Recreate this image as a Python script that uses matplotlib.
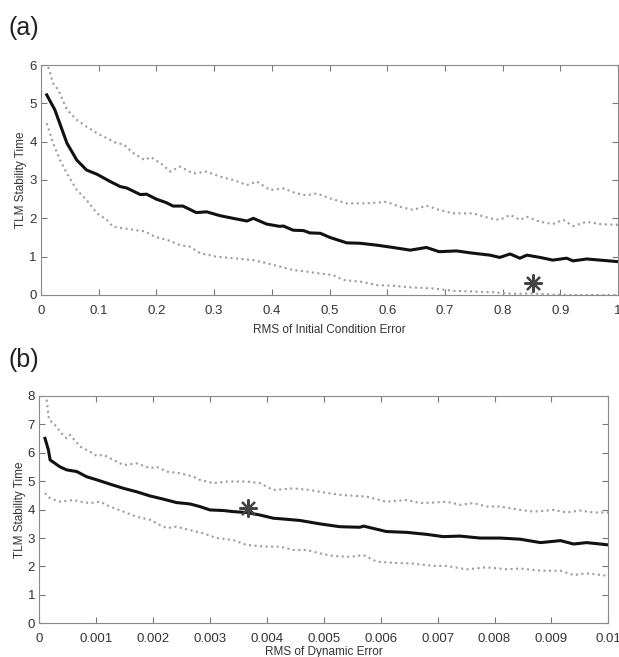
import matplotlib
matplotlib.use("Agg")
import matplotlib.pyplot as plt

plt.rcParams['font.family'] = ['Liberation Sans', 'DejaVu Sans']

# ---- Panel (a): stability time vs. RMS of initial condition error ----
a_mean_x = [0.01, 0.024, 0.045, 0.062, 0.079, 0.097, 0.12, 0.137, 0.149, 0.172, 0.183,
            0.2, 0.217, 0.229, 0.246, 0.269, 0.287, 0.31, 0.333, 0.357, 0.368, 0.391,
            0.414, 0.42, 0.437, 0.455, 0.466, 0.484, 0.501, 0.53, 0.553, 0.582, 0.61,
            0.64, 0.668, 0.69, 0.72, 0.749, 0.778, 0.795, 0.813, 0.83, 0.842, 0.865,
            0.887, 0.911, 0.922, 0.946, 0.969, 1.0]
a_mean_y = [5.22, 4.83, 3.96, 3.52, 3.26, 3.15, 2.96, 2.83, 2.79, 2.62, 2.63,
            2.5, 2.41, 2.32, 2.32, 2.15, 2.17, 2.07, 2.0, 1.93, 2.0, 1.85,
            1.79, 1.8, 1.69, 1.68, 1.62, 1.61, 1.5, 1.36, 1.35, 1.3, 1.24,
            1.17, 1.24, 1.13, 1.15, 1.09, 1.04, 0.98, 1.07, 0.96, 1.04, 0.98,
            0.91, 0.96, 0.89, 0.94, 0.91, 0.87]

a_up_x = [0.0126, 0.021, 0.03, 0.045, 0.062, 0.079, 0.097, 0.114, 0.131, 0.143, 0.16,
          0.18, 0.19, 0.208, 0.224, 0.241, 0.264, 0.287, 0.31, 0.333, 0.357, 0.374,
          0.397, 0.42, 0.443, 0.46, 0.478, 0.501, 0.53, 0.564, 0.599, 0.622, 0.645,
          0.668, 0.69, 0.714, 0.749, 0.778, 0.795, 0.813, 0.83, 0.842, 0.865, 0.887,
          0.905, 0.922, 0.946, 0.969, 1.0]
a_up_y = [5.95, 5.52, 5.35, 4.83, 4.57, 4.39, 4.22, 4.09, 3.96, 3.93, 3.7,
          3.52, 3.6, 3.43, 3.22, 3.35, 3.17, 3.22, 3.09, 3.0, 2.87, 2.96,
          2.74, 2.78, 2.65, 2.6, 2.65, 2.52, 2.39, 2.39, 2.43, 2.3, 2.22,
          2.33, 2.22, 2.13, 2.13, 2.0, 1.96, 2.09, 1.96, 2.04, 1.91, 1.85,
          1.96, 1.8, 1.91, 1.85, 1.83]

a_lo_x = [0.01, 0.021, 0.033, 0.045, 0.062, 0.079, 0.097, 0.114, 0.125, 0.143, 0.16,
          0.18, 0.197, 0.22, 0.241, 0.258, 0.276, 0.304, 0.333, 0.368, 0.391, 0.414,
          0.437, 0.46, 0.478, 0.506, 0.524, 0.553, 0.582, 0.61, 0.64, 0.68, 0.714,
          0.749, 0.784, 0.818, 0.853, 0.887, 0.92, 0.95, 1.0]
a_lo_y = [4.48, 3.96, 3.52, 3.17, 2.74, 2.48, 2.13, 1.96, 1.78, 1.74, 1.7,
          1.66, 1.52, 1.43, 1.3, 1.26, 1.09, 1.0, 0.96, 0.91, 0.83, 0.74,
          0.65, 0.61, 0.57, 0.52, 0.39, 0.35, 0.26, 0.24, 0.2, 0.17, 0.11,
          0.09, 0.07, 0.03, 0.04, 0.01, 0.0, 0.0, 0.0]

a_star = (0.852, 0.32)

# ---- Panel (b): stability time vs. RMS of dynamic error ----
b_mean_x = [0.0001, 0.00016, 0.00019, 0.00036, 0.00048, 0.00066, 0.00083, 0.00101,
            0.00124, 0.00148, 0.00171, 0.00195, 0.00218, 0.00241, 0.00265, 0.00282,
            0.003, 0.00323, 0.00341, 0.00364, 0.00388, 0.00411, 0.00435, 0.00458,
            0.00493, 0.00528, 0.00563, 0.0057, 0.0061, 0.00646, 0.00681, 0.0071,
            0.00739, 0.00775, 0.0081, 0.00845, 0.00881, 0.00916, 0.00939, 0.00962,
            0.00986, 0.01]
b_mean_y = [6.51, 6.1, 5.75, 5.51, 5.4, 5.34, 5.16, 5.05,
            4.9, 4.75, 4.63, 4.48, 4.37, 4.25, 4.2, 4.11,
            3.99, 3.97, 3.93, 3.9, 3.81, 3.7, 3.66, 3.62,
            3.5, 3.4, 3.38, 3.42, 3.23, 3.2, 3.13, 3.05,
            3.07, 3.0, 3.0, 2.96, 2.84, 2.91, 2.79, 2.84,
            2.79, 2.76]

b_up_x = [0.00013, 0.00017, 0.00025, 0.00039, 0.00048, 0.00054, 0.00072, 0.00089,
          0.00101, 0.00113, 0.0013, 0.00148, 0.00171, 0.00195, 0.00206, 0.00224,
          0.00247, 0.00271, 0.00282, 0.00306, 0.0033, 0.00364, 0.00388, 0.00411,
          0.00446, 0.00476, 0.00493, 0.00528, 0.00575, 0.0061, 0.00646, 0.00669,
          0.00693, 0.00716, 0.00739, 0.00763, 0.00786, 0.0081, 0.00845, 0.00869,
          0.00904, 0.00927, 0.0095, 0.00974, 0.01]
b_up_y = [7.87, 7.16, 7.04, 6.69, 6.51, 6.63, 6.22, 6.04,
          5.89, 5.93, 5.75, 5.57, 5.63, 5.46, 5.51, 5.34,
          5.28, 5.16, 5.05, 4.93, 4.99, 4.99, 4.93, 4.69,
          4.75, 4.69, 4.63, 4.52, 4.46, 4.28, 4.34, 4.23,
          4.25, 4.28, 4.17, 4.23, 4.11, 4.11, 3.99, 3.93,
          3.99, 3.9, 3.97, 3.9, 3.9]

b_lo_x = [0.0001, 0.00019, 0.00036, 0.0006, 0.00072, 0.00089, 0.00107, 0.00124,
          0.00148, 0.00171, 0.00195, 0.00212, 0.00224, 0.00241, 0.00265, 0.00288,
          0.00312, 0.00341, 0.00364, 0.00394, 0.00423, 0.00446, 0.0047, 0.00493,
          0.00516, 0.00546, 0.0057, 0.00593, 0.00622, 0.00657, 0.00693, 0.00716,
          0.00751, 0.00786, 0.00822, 0.00845, 0.00881, 0.00916, 0.00939, 0.00962,
          0.01]
b_lo_y = [4.58, 4.4, 4.28, 4.34, 4.28, 4.23, 4.28, 4.11,
          3.93, 3.75, 3.64, 3.46, 3.35, 3.4, 3.28, 3.17,
          3.0, 2.93, 2.76, 2.7, 2.7, 2.58, 2.58, 2.46,
          2.37, 2.34, 2.4, 2.17, 2.13, 2.1, 2.02, 2.02,
          1.9, 1.97, 1.9, 1.93, 1.85, 1.85, 1.7, 1.76,
          1.67]

b_star = (0.00367, 4.05)

a_xticks = [0, 0.1, 0.2, 0.3, 0.4, 0.5, 0.6, 0.7, 0.8, 0.9, 1]
a_xticklabels = ['0', '0.1', '0.2', '0.3', '0.4', '0.5', '0.6', '0.7', '0.8', '0.9', '1']
a_yticks = [0, 1, 2, 3, 4, 5, 6]
b_xticks = [0, 0.001, 0.002, 0.003, 0.004, 0.005, 0.006, 0.007, 0.008, 0.009, 0.01]
b_xticklabels = ['0', '0.001', '0.002', '0.003', '0.004', '0.005', '0.006', '0.007',
                 '0.008', '0.009', '0.01']
b_yticks = [0, 1, 2, 3, 4, 5, 6, 7, 8]

W, H = 619, 657
fig = plt.figure(figsize=(W / 100, H / 100), dpi=100)

ax_a = fig.add_axes([41 / W, 1 - 295 / H, 577 / W, 230 / H])
ax_b = fig.add_axes([39.3 / W, 1 - 623.3 / H, 569 / W, 227.3 / H])

BOUND = '#9c9c9c'
TXT = '#333333'


def style(ax, xticks, xlabels, yticks, xlim, ylim, xlabel, xlabelpad):
    ax.set_xlim(*xlim)
    ax.set_ylim(*ylim)
    ax.set_xticks(xticks)
    ax.set_xticklabels(xlabels)
    ax.set_yticks(yticks)
    ax.tick_params(direction='in', top=True, right=True, length=4, width=0.8,
                   color='#777777', labelsize=9.5, labelcolor=TXT)
    ax.tick_params(axis='x', pad=7)
    ax.tick_params(axis='y', pad=3)
    for s in ax.spines.values():
        s.set_color('#8a8a8a')
        s.set_linewidth(0.8)
    ax.set_ylabel('TLM Stability Time', fontsize=8.5, color=TXT, labelpad=1.5)
    ax.set_xlabel(xlabel, fontsize=8.5, color=TXT, labelpad=xlabelpad)


ax_a.plot(a_up_x, a_up_y, ls=':', lw=1.5, color=BOUND)
ax_a.plot(a_lo_x, a_lo_y, ls=':', lw=1.5, color=BOUND)
ax_a.plot(a_mean_x, a_mean_y, '-', lw=2.2, color='#111111')
ax_a.plot([a_star[0]], [a_star[1]], marker=(8, 2, 0), ms=13, mew=1.6,
          color='#444444', ls='none')
style(ax_a, a_xticks, a_xticklabels, a_yticks, (0, 1), (0, 6),
      'RMS of Initial Condition Error', 5)

ax_b.plot(b_up_x, b_up_y, ls=':', lw=1.5, color=BOUND)
ax_b.plot(b_lo_x, b_lo_y, ls=':', lw=1.5, color=BOUND)
ax_b.plot(b_mean_x, b_mean_y, '-', lw=2.2, color='#111111')
ax_b.plot([b_star[0]], [b_star[1]], marker=(8, 2, 0), ms=13, mew=1.6,
          color='#444444', ls='none')
style(ax_b, b_xticks, b_xticklabels, b_yticks, (0, 0.01), (0, 8),
      'RMS of Dynamic Error', 0.5)

fig.text(8 / W, 1 - 28 / H, '(a)', fontsize=18, color='#222222', va='center', ha='left')
fig.text(8 / W, 1 - 360 / H, '(b)', fontsize=18, color='#222222', va='center', ha='left')

fig.savefig('out.png', dpi=100, facecolor='white')
